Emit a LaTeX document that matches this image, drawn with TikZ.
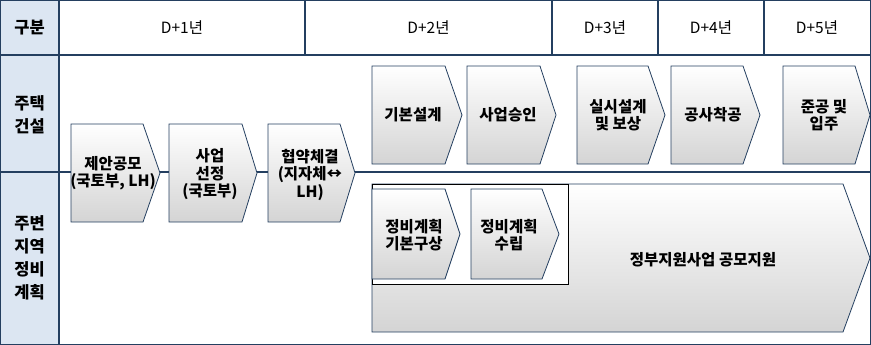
\documentclass[tikz,border=0pt]{standalone}
\usepackage{fontspec}
\setmainfont{Noto Sans CJK KR}
\definecolor{navy}{HTML}{243F60}
\definecolor{lblue}{HTML}{DCE6F2}
\definecolor{chevbot}{HTML}{D4D4D4}
\tikzset{
 gridline/.style={draw=navy, line width=1.3pt},
 chev/.style={draw=navy, line width=0.8pt, top color=white, bottom color=chevbot},
 lbl/.style={font=\bfseries\fontsize{16.5}{23}\selectfont, align=center, inner sep=0pt},
 hdr/.style={font=\fontsize{15.5}{17}\selectfont, inner sep=0pt},
 ctext/.style={font=\bfseries\fontsize{15.5}{17.5}\selectfont, align=center, inner sep=0pt},
}
\newcommand\mychev[5]{\path[chev] (#1,#4) -- (#2,#4) -- (#3,{(#4+#5)/2}) -- (#2,#5) -- (#1,#5) -- cycle;}
\begin{document}
\begin{tikzpicture}[x=1pt,y=-1pt]
\useasboundingbox (0,0) rectangle (871,345);
% table
\fill[lblue] (0,0) rectangle (59,344);
\draw[gridline] (0.7,0.7) rectangle (870.3,344.3);
\draw[gridline] (0,55) -- (871,55);
\draw[gridline] (0,172) -- (871,172);
\draw[gridline] (59,0) -- (59,345);
\foreach \x in {305,552,658,764} \draw[gridline] (\x,0) -- (\x,55);
% header texts
\node[lbl] (h0) at (29.5,28) {구분};
\node[hdr] (h1) at (182,28) {D+1년};
\node[hdr] (h2) at (428.5,28) {D+2년};
\node[hdr] (h3) at (605,28) {D+3년};
\node[hdr] (h4) at (711,28) {D+4년};
\node[hdr] (h5) at (817,28) {D+5년};
\node[lbl] (r1) at (29.5,115) {주택\\건설};
\node[lbl] (r2) at (29.5,258) {주변\\지역\\정비\\계획};
% row 2 chevrons
\mychev{372}{445}{462}{66}{164}
\mychev{467}{540}{556}{66}{164}
\mychev{577}{648}{665}{66}{164}
\mychev{671}{743}{760}{66}{164}
\mychev{783}{855}{870}{66}{164}
% boundary chevrons
\mychev{71}{143}{160}{124}{222}
\mychev{169}{242}{257}{124}{222}
\mychev{268}{340}{355}{124}{222}
% row 3
\mychev{372}{843}{870}{184}{332}
\draw[black, line width=1pt, fill=white] (372,184) rectangle (568,284);
\mychev{372}{445}{460}{189}{279}
\mychev{471}{542}{559}{189}{279}
% chevron texts
\node[ctext] (a1) at (413,115) {기본설계};
\node[ctext] (a2) at (508,115) {사업승인};
\node[ctext] (a3) at (618,115) {실시설계\\및 보상};
\node[ctext] (a4) at (713,115) {공사착공};
\node[ctext] (a5) at (824,115) {준공 및\\입주};
\node[ctext] (b1) at (113,173) {제안공모\\(국토부, LH)};
\node[ctext] (b2) at (210,174.5) {사업\\선정\\(국토부)};
\node[ctext] (b3) at (310,174.5) {협약체결\\(지자체↔\\LH)};
\node[ctext] (c1) at (414,235) {정비계획\\기본구상};
\node[ctext] (c2) at (509,235) {정비계획\\수립};
\node[ctext] (c3) at (703,260) {정부지원사업 공모지원};
\end{tikzpicture}
\end{document}
